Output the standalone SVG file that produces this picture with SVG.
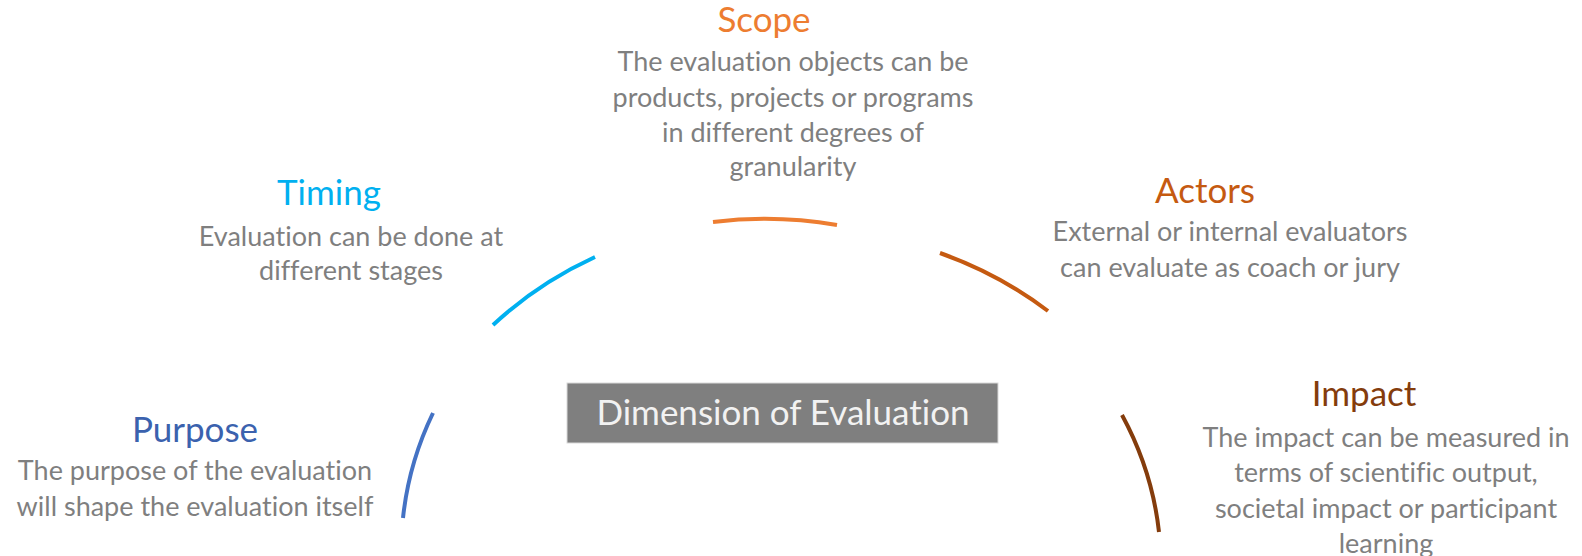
<svg xmlns="http://www.w3.org/2000/svg" width="1582" height="556" viewBox="0 0 1582 556">
<style>
.t{font-family:Lato,"Open Sans","Liberation Sans",sans-serif;text-anchor:middle;font-variant-ligatures:none}
.h{font-size:35px}
.b{font-size:27px;fill:#7F7F7F}
.arc{fill:none;stroke-width:4;stroke-linecap:butt}
</style>
<rect width="1582" height="556" fill="#FFFFFF"/>
<g id="connectors">
<path class="arc" stroke="#4472C4" d="M403,518 A385,345 0 0 1 433,413"/>
<path class="arc" stroke="#00B0F0" d="M493,325 A385,345 0 0 1 595,257"/>
<path class="arc" stroke="#ED7D31" d="M713,222 A385,345 0 0 1 837,225"/>
<path class="arc" stroke="#C55A11" d="M940,253 A385,345 0 0 1 1048,311"/>
<path class="arc" stroke="#843C0C" d="M1122,415 A385,345 0 0 1 1159,532"/>
</g>
<g id="center">
<rect x="567" y="383" width="431" height="60" fill="#7F7F7F" stroke="#D9D9D9" stroke-width="1"/>
<text class="t" x="783" y="425" font-size="35" fill="#F2F2F2">Dimension of Evaluation</text>
</g>
<g id="scope">
<text class="t h" x="764" y="32" fill="#ED7D31">Scope</text>
<text class="t b" x="793" y="71">The evaluation objects can be</text>
<text class="t b" x="793" y="107">products, projects or programs</text>
<text class="t b" x="793" y="142">in different degrees of</text>
<text class="t b" x="793" y="176">granularity</text>
</g>
<g id="timing">
<text class="t h" x="329" y="205" fill="#00B0F0">Timing</text>
<text class="t b" x="351" y="246">Evaluation can be done at</text>
<text class="t b" x="351" y="280">different stages</text>
</g>
<g id="actors">
<text class="t h" x="1205" y="203" fill="#C55A11">Actors</text>
<text class="t b" x="1230" y="241">External or internal evaluators</text>
<text class="t b" x="1230" y="277">can evaluate as coach or jury</text>
</g>
<g id="impact">
<text class="t h" x="1364" y="406" fill="#843C0C">Impact</text>
<text class="t b" x="1386" y="447">The impact can be measured in</text>
<text class="t b" x="1386" y="482">terms of scientific output,</text>
<text class="t b" x="1386" y="518">societal impact or participant</text>
<text class="t b" x="1386" y="553">learning</text>
</g>
<g id="purpose">
<text class="t h" x="195" y="442" fill="#3B62AE">Purpose</text>
<text class="t b" x="195" y="480">The purpose of the evaluation</text>
<text class="t b" x="195" y="516">will shape the evaluation itself</text>
</g>
</svg>
